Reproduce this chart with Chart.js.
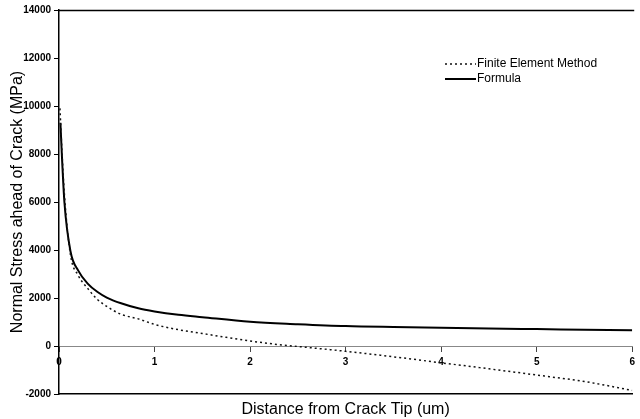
<!DOCTYPE html>
<html>
<head>
<meta charset="utf-8">
<script src="https://cdn.jsdelivr.net/npm/chart.js@4.4.1/dist/chart.umd.min.js"></script>
<style>
  html, body { margin: 0; padding: 0; background: #fff; }
  #wrap { width: 640px; height: 419px; position: relative; }
</style>
</head>
<body>
<div id="wrap"><canvas id="stressChart"></canvas></div>
<script>
// distance from crack tip (um)
const femX = [0.01, 0.03, 0.057, 0.12, 0.2, 0.3, 0.4, 0.5, 0.65, 0.83, 1.0, 1.25, 1.5, 1.75, 2.0, 2.25, 2.5, 3.0, 3.5, 4.0, 4.5, 5.0, 5.5, 6.0];
// normal stress, finite element method (MPa)
const femY = [9900, 8200, 6300, 3800, 2950, 2400, 1950, 1650, 1320, 1130, 900, 680, 520, 360, 210, 80, -20, -220, -450, -700, -950, -1210, -1480, -1850];

const formulaX = [0.015, 0.03, 0.057, 0.12, 0.2, 0.3, 0.4, 0.5, 0.65, 0.83, 1.0, 1.25, 1.5, 2.0, 2.5, 3.0, 3.5, 4.0, 4.5, 5.0, 5.5, 6.0];
const formulaY = [9300, 7960, 5980, 3950, 3150, 2600, 2260, 2020, 1780, 1570, 1440, 1300, 1200, 1010, 910, 830, 790, 760, 730, 705, 680, 655];

const xTicks = [0, 1, 2, 3, 4, 5, 6];
const yTicks = [-2000, 0, 2000, 4000, 6000, 8000, 10000, 12000, 14000];

const toPoints = (xs, ys) => xs.map((x, i) => ({ x: x, y: ys[i] }));

// frame line on top + hand drawn legend
const framePlugin = {
  id: "frame",
  afterDraw(chart) {
    const { ctx, chartArea } = chart;
    ctx.save();
    ctx.strokeStyle = "#000";
    ctx.lineWidth = 1.5;
    ctx.beginPath();
    ctx.moveTo(chartArea.left, chartArea.top + 0.5);
    ctx.lineTo(chartArea.right + 2, chartArea.top + 0.5);
    ctx.stroke();

    // legend
    const sets = chart.data.datasets;
    const lx = 445, ly = [64, 79];
    ctx.font = "12px 'Liberation Sans', Arial, sans-serif";
    ctx.textBaseline = "middle";
    ctx.fillStyle = "#000";
    sets.forEach((ds, i) => {
      ctx.beginPath();
      ctx.setLineDash(ds.borderDash || []);
      ctx.lineWidth = ds.borderWidth;
      ctx.strokeStyle = ds.borderColor;
      ctx.moveTo(lx, ly[i]);
      ctx.lineTo(lx + 31, ly[i]);
      ctx.stroke();
      ctx.setLineDash([]);
      ctx.fillText(ds.label, lx + 32, ly[i]);
    });
    ctx.restore();
  }
};

const tickFont = { family: "'Liberation Sans', Arial, sans-serif", size: 10, weight: "bold" };
const titleFont = { family: "'Liberation Sans', Arial, sans-serif", size: 16 };

new Chart(document.getElementById("stressChart"), {
  type: "line",
  data: {
    datasets: [
      {
        label: "Finite Element Method",
        data: toPoints(femX, femY),
        borderColor: "#111",
        borderWidth: 1.5,
        borderDash: [2, 3],
        pointRadius: 0,
        cubicInterpolationMode: "monotone",
        fill: false
      },
      {
        label: "Formula",
        data: toPoints(formulaX, formulaY),
        borderColor: "#000",
        borderWidth: 2,
        pointRadius: 0,
        cubicInterpolationMode: "monotone",
        fill: false
      }
    ]
  },
  options: {
    responsive: true,
    maintainAspectRatio: false,
    animation: false,
    layout: { padding: { top: 10, right: 1, left: 0, bottom: 0 } },
    plugins: { legend: { display: false }, tooltip: { enabled: false } },
    scales: {
      x: {
        type: "linear",
        position: { y: 0 },
        min: 0,
        max: 6,
        afterBuildTicks: s => { s.ticks = xTicks.map(v => ({ value: v })); },
        ticks: { font: tickFont, color: "#000", padding: 5, maxRotation: 0, callback: v => String(v) },
        grid: { drawOnChartArea: false, tickLength: 5, color: "#444" },
        border: { display: true, color: "#888", width: 1 }
      },
      xb: {
        type: "linear",
        position: "bottom",
        min: 0,
        max: 6,
        ticks: { display: false },
        grid: { display: false },
        border: { display: true, color: "#000", width: 1.5 },
        title: { display: true, text: "Distance from Crack Tip (um)", font: titleFont, color: "#000", padding: { top: 2, bottom: 0 } },
        afterFit: s => { s.height = 25; }
      },
      y: {
        min: -2000,
        max: 14000,
        afterBuildTicks: s => { s.ticks = yTicks.map(v => ({ value: v })); },
        ticks: { font: tickFont, color: "#000", padding: 3, callback: v => String(v) },
        grid: { drawOnChartArea: false, tickLength: 5, color: "#000" },
        border: { display: true, color: "#000", width: 1.5 },
        title: { display: true, text: "Normal Stress ahead of Crack (MPa)", font: titleFont, color: "#000", padding: { top: 8, bottom: 0 } },
        afterFit: s => { s.width = 59; }
      }
    }
  },
  plugins: [framePlugin]
});
</script>
</body>
</html>
